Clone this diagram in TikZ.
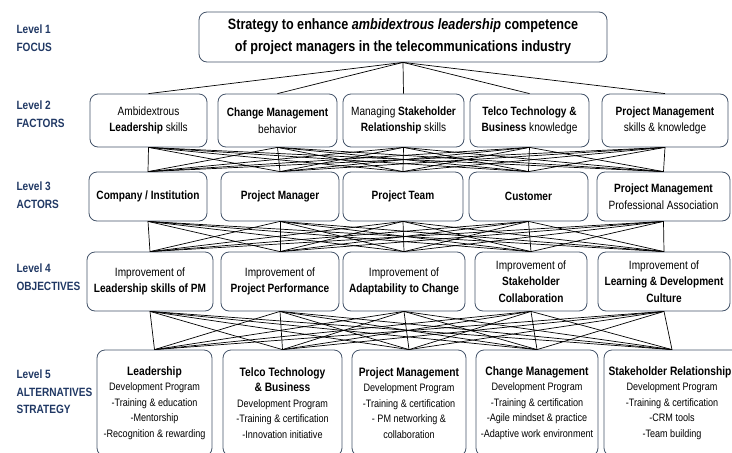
\documentclass[tikz,border=0pt]{standalone}
\usepackage{fontspec}
\setmainfont{Liberation Sans}[FakeStretch=0.84]
\usepackage{xcolor}
\usetikzlibrary{positioning}
\definecolor{lvlblue}{HTML}{203864}
\definecolor{boxline}{HTML}{44546A}
\newcommand{\althead}{\bfseries\fontsize{12.2}{17}\selectfont}

\begin{document}
\begin{tikzpicture}[x=1pt, y=-1pt,
    box/.style={draw=boxline, line width=0.8pt, rounded corners=8pt, fill=white, align=center, inner sep=2pt, font=\fontsize{12}{16.5}\selectfont},
    altbox/.style={box, font=\fontsize{10.8}{15.5}\selectfont},
    lvl/.style={anchor=west, align=left, text=lvlblue, font=\bfseries\fontsize{12}{17.5}\selectfont},
    link/.style={line width=0.7pt}]
    \useasboundingbox (0,0) rectangle (732,453);

    % level labels
    \node[lvl] (l1) at (13,38) {Level 1\\FOCUS};
    \node[lvl] (l2) at (13,114) {Level 2\\FACTORS};
    \node[lvl] (l3) at (13,195) {Level 3\\ACTORS};
    \node[lvl] (l4) at (13,277) {Level 4\\OBJECTIVES};
    \node[lvl] (l5) at (13,392) {Level 5\\ALTERNATIVES\\STRATEGY};

    % focus
    \node[box, minimum width=408pt, minimum height=50pt, font=\bfseries\fontsize{15}{22}\selectfont] (focus) at (403,37)
        {Strategy to enhance \textit{ambidextrous leadership} competence\\of project managers in the telecommunications industry};

    % factors
    \node[box, minimum width=117pt, minimum height=53pt] (f1) at (148.5,120.5) {Ambidextrous\\\textbf{Leadership} skills};
    \node[box, minimum width=119pt, minimum height=53pt] (f2) at (277.5,120.5) {\textbf{Change Management}\\behavior};
    \node[box, minimum width=121pt, minimum height=53pt] (f3) at (403.5,120.5) {Managing \textbf{Stakeholder}\\\textbf{Relationship} skills};
    \node[box, minimum width=119pt, minimum height=53pt] (f4) at (529.5,120.5) {\textbf{Telco Technology \&}\\\textbf{Business} knowledge};
    \node[box, minimum width=126pt, minimum height=53pt] (f5) at (665,120.5) {\textbf{Project Management}\\skills \& knowledge};

    % actors
    \node[box, minimum width=118pt, minimum height=49pt] (a1) at (148,196.5) {\textbf{Company / Institution}};
    \node[box, minimum width=118pt, minimum height=49pt] (a2) at (280,196.5) {\textbf{Project Manager}};
    \node[box, minimum width=120pt, minimum height=49pt] (a3) at (403,196.5) {\textbf{Project Team}};
    \node[box, minimum width=119pt, minimum height=49pt] (a4) at (528.5,196.5) {\textbf{Customer}};
    \node[box, minimum width=133pt, minimum height=49pt] (a5) at (663.5,196.5) {\textbf{Project Management}\\Professional Association};

    % objectives
    \node[box, minimum width=126pt, minimum height=59pt] (o1) at (150,281.5) {Improvement of\\\textbf{Leadership skills of PM}};
    \node[box, minimum width=118pt, minimum height=59pt] (o2) at (280,281.5) {Improvement of\\\textbf{Project Performance}};
    \node[box, minimum width=122pt, minimum height=59pt] (o3) at (404,281.5) {Improvement of\\\textbf{Adaptability to Change}};
    \node[box, minimum width=112pt, minimum height=59pt] (o4) at (531,281.5) {Improvement of\\\textbf{Stakeholder}\\\textbf{Collaboration}};
    \node[box, minimum width=132pt, minimum height=59pt] (o5) at (664,281.5) {Improvement of\\\textbf{Learning \& Development}\\\textbf{Culture}};

    % alternatives
    \node[altbox, minimum width=115pt, minimum height=106pt] (s1) at (154.5,403)
        {{\althead Leadership}\\Development Program\\-Training \& education\\-Mentorship\\-Recognition \& rewarding};
    \node[altbox, minimum width=119pt, minimum height=106pt] (s2) at (282.5,403)
        {{\althead Telco Technology}\\{\althead \& Business}\\Development Program\\-Training \& certification\\-Innovation initiative};
    \node[altbox, minimum width=114pt, minimum height=106pt] (s3) at (409,403)
        {{\althead Project Management}\\Development Program\\-Training \& certification\\- PM networking \&\\collaboration};
    \node[altbox, minimum width=122pt, minimum height=106pt] (s4) at (537,403)
        {{\althead Change Management}\\Development Program\\-Training \& certification\\-Agile mindset \& practice\\-Adaptive work environment};
    \node[altbox, minimum width=136pt, minimum height=106pt] (s5) at (672,403)
        {{\althead Stakeholder Relationship\hspace*{4pt}}\\Development Program\\-Training \& certification\\-CRM tools\\-Team building};

    % links between levels
    \foreach \i in {1,...,5} {
        \draw[link] (focus.south) -- (f\i.north);
        \foreach \j in {1,...,5} {
            \draw[link] (f\i.south) -- (a\j.north);
            \draw[link] (a\i.south) -- (o\j.north);
            \draw[link] (o\i.south) -- (s\j.north);
        }
    }
\end{tikzpicture}
\end{document}
